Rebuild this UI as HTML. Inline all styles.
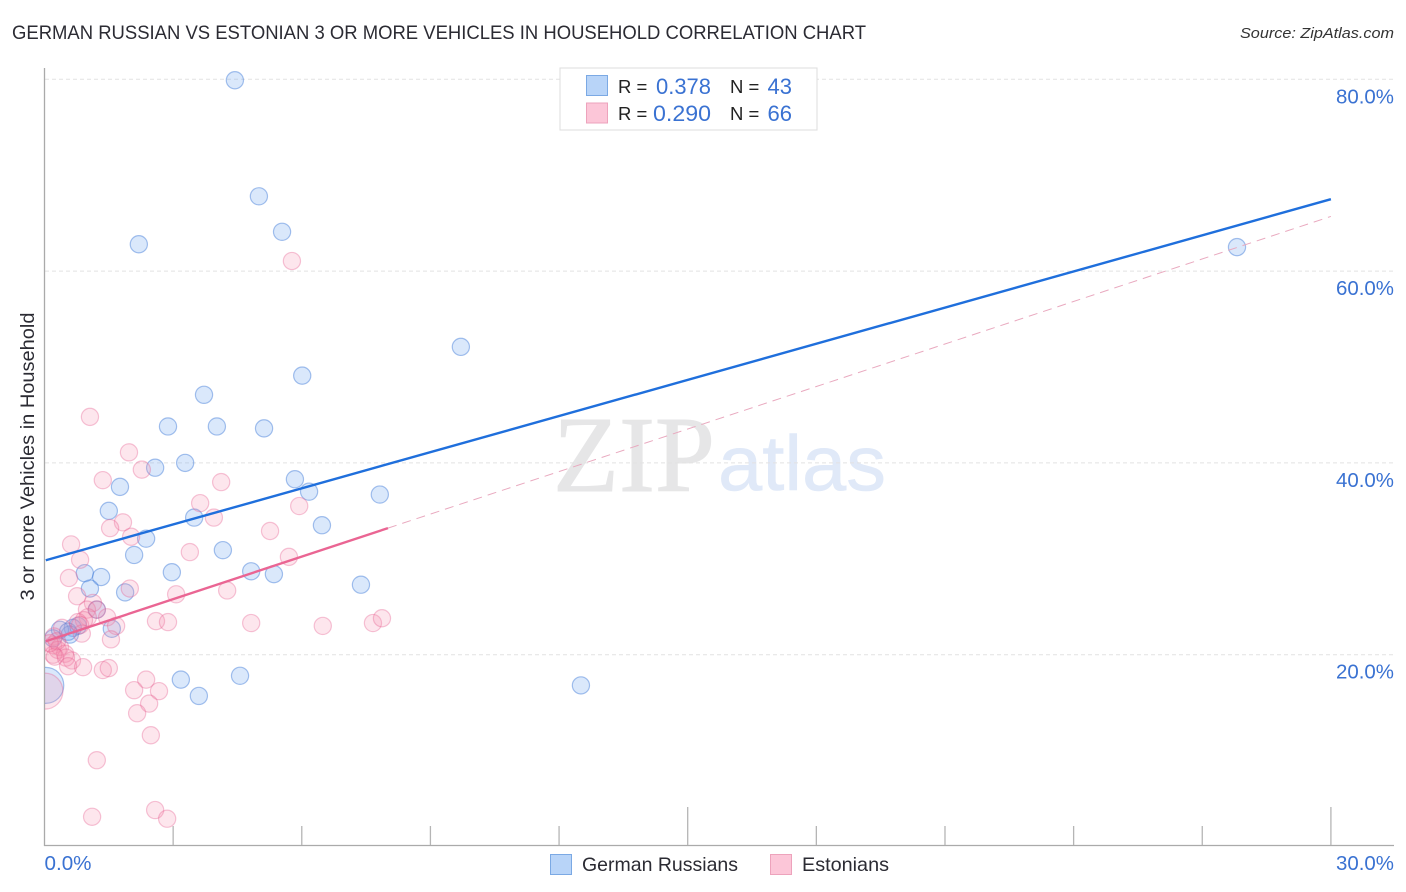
<!DOCTYPE html>
<html lang="en">
<head>
<meta charset="utf-8">
<title>German Russian vs Estonian 3 or more vehicles in household correlation chart</title>
<style>
html,body{margin:0;padding:0;background:#fff;width:1406px;height:892px;overflow:hidden}
svg{display:block;font-family:"Liberation Sans",sans-serif}
</style>
</head>
<body>
<svg id="chart" width="1406" height="892" viewBox="0 0 1406 892" xmlns="http://www.w3.org/2000/svg">
  <defs>
    <clipPath id="plot-clip"><rect x="45" y="60" width="1350" height="786"/></clipPath>
  </defs>
  <text x="12" y="39" font-size="19" fill="#2b2b33" textLength="854" lengthAdjust="spacingAndGlyphs">GERMAN RUSSIAN VS ESTONIAN 3 OR MORE VEHICLES IN HOUSEHOLD CORRELATION CHART</text>
  <text x="1394" y="38" font-size="15" font-style="italic" fill="#333" text-anchor="end" textLength="154" lengthAdjust="spacingAndGlyphs">Source: ZipAtlas.com</text>
  <g id="watermark">
    <text x="553" y="491" font-family="'Liberation Serif',serif" font-size="108" fill="#e6e6e7" stroke="#e6e6e7" stroke-width="1" textLength="162" lengthAdjust="spacingAndGlyphs">ZIP</text>
    <text x="718" y="490" font-size="78" fill="#e0e9f8" stroke="#e0e9f8" stroke-width="0.6" textLength="168" lengthAdjust="spacingAndGlyphs">atlas</text>
  </g>
  <g id="grid"></g>
  <g id="axes"></g>
  <g id="points" clip-path="url(#plot-clip)"></g>
  <g id="trends"></g>
  <g id="tick-labels"></g>
  <text transform="translate(34,456.5) rotate(-90)" font-size="19.5" fill="#2b2b33" text-anchor="middle" textLength="288" lengthAdjust="spacingAndGlyphs">3 or more Vehicles in Household</text>

  <g>
    <rect x="560" y="68" width="257" height="62" fill="#fff" stroke="#ddd" stroke-width="1"/>
    <rect x="586.5" y="75.5" width="21" height="20" fill="#b8d4f8" stroke="#7ba9e4"/>
    <rect x="586.5" y="103" width="21" height="20" fill="#fcc6d8" stroke="#eda3bc"/>
    <text x="618" y="93" font-size="18.5" fill="#222">R =</text>
    <text x="711" y="94" font-size="22" fill="#3a72d2" text-anchor="end" textLength="55" lengthAdjust="spacingAndGlyphs">0.378</text>
    <text x="730" y="93" font-size="18.5" fill="#222">N =</text>
    <text x="792" y="94" font-size="22" fill="#3a72d2" text-anchor="end">43</text>
    <text x="618" y="120" font-size="18.5" fill="#222">R =</text>
    <text x="711" y="121" font-size="22" fill="#3a72d2" text-anchor="end" textLength="58" lengthAdjust="spacingAndGlyphs">0.290</text>
    <text x="730" y="120" font-size="18.5" fill="#222">N =</text>
    <text x="792" y="121" font-size="22" fill="#3a72d2" text-anchor="end">66</text>
  </g>

  <g>
    <rect x="550.5" y="854.5" width="21" height="20" fill="#b8d4f8" stroke="#7ba9e4"/>
    <text x="582" y="871" font-size="19.5" fill="#2b2b33" textLength="156" lengthAdjust="spacingAndGlyphs">German Russians</text>
    <rect x="770.5" y="854.5" width="21" height="20" fill="#fcc6d8" stroke="#eda3bc"/>
    <text x="802" y="871" font-size="19.5" fill="#2b2b33" textLength="87" lengthAdjust="spacingAndGlyphs">Estonians</text>
  </g>
</svg>
<script>
const yGridValues = [20, 40, 60, 80];
const yTickLabels = ["20.0%", "40.0%", "60.0%", "80.0%"];
const xTickValues = [3, 6, 9, 12, 15, 18, 21, 24, 27, 30];
const xTickMajor = [15, 30];
const xEdgeLabels = ["0.0%", "30.0%"];

const germanX = [4.44,5.00,5.54,2.20,9.71,27.81,6.01,3.72,2.88,4.02,5.12,3.28,2.58,5.84,6.17,7.82,1.76,3.49,1.50,6.47,2.37,2.09,4.16,0.94,1.32,2.97,4.82,5.35,7.38,1.06,1.88,1.22,1.57,0.78,0.66,0.59,0.36,0.20,0.55,3.18,3.60,4.56,12.51];
const germanY = [79.9,67.8,64.1,62.8,52.1,62.5,49.1,47.1,43.8,43.8,43.6,40.0,39.5,38.3,37.0,36.7,37.5,34.3,35.0,33.5,32.1,30.4,30.9,28.5,28.1,28.6,28.7,28.4,27.3,26.9,26.5,24.7,22.7,23.0,22.8,22.1,22.6,21.7,22.4,17.4,15.7,17.8,16.8];
const germanLargeX = [0.03];
const germanLargeY = [16.8];

const estonianX = [5.77,1.06,1.97,1.36,2.27,4.12,3.63,5.94,3.95,1.83,1.53,2.02,5.26,0.62,3.39,5.70,0.83,0.57,1.99,3.07,4.26,0.76,1.13,0.99,1.22,1.46,1.01,0.92,2.60,2.88,4.82,6.49,7.66,7.87,0.78,1.67,1.55,0.87,0.41,0.83,0.22,0.20,0.36,0.31,0.48,0.64,0.20,0.50,0.24,0.55,0.90,1.36,1.50,2.37,2.09,2.67,2.44,2.16,2.48,1.22,1.11,2.58,2.86,0.29,0.12];
const estonianY = [61.05,44.8,41.1,38.2,39.3,38.0,35.8,35.5,34.3,33.8,33.2,32.3,32.9,31.5,30.7,30.2,29.9,28.0,26.9,26.3,26.7,26.1,25.4,24.7,24.7,23.9,23.9,23.6,23.5,23.4,23.3,23.0,23.3,23.8,23.4,23.0,21.6,22.2,22.8,23.1,21.9,21.0,20.8,20.5,20.1,19.4,20.0,19.7,19.8,18.8,18.7,18.4,18.6,17.4,16.3,16.2,14.9,13.9,11.6,9.0,3.1,3.8,2.9,21.4,21.2];
const estonianLargeX = [0.01];
const estonianLargeY = [16.2];

const germanTrendX = [0.03, 30];
const germanTrendY = [29.85, 67.5];
const estonianTrendX = [0.03, 8.01];
const estonianTrendY = [21.4, 33.2];
const estonianDashX = [8.01, 30];
const estonianDashY = [33.2, 65.7];

const NS = "http://www.w3.org/2000/svg";
const xScale = v => 44.5 + v * 42.88;
const yScale = v => 846.5 - v * 9.59;

function mk(parent, tag, attrs, text) {
  const el = document.createElementNS(NS, tag);
  for (const k in attrs) el.setAttribute(k, attrs[k]);
  if (text !== undefined) el.textContent = text;
  parent.appendChild(el);
  return el;
}

const grid = document.getElementById("grid");
const axes = document.getElementById("axes");
const pointsG = document.getElementById("points");
const trends = document.getElementById("trends");
const labels = document.getElementById("tick-labels");

yGridValues.forEach((v, i) => {
  const line = mk(grid, "line", {x1: 45, x2: 1394, y1: yScale(v), y2: yScale(v), stroke: "#e2e2e2", "stroke-width": 1, "stroke-dasharray": "4 3"});
  
  
  const t = mk(labels, "text", {x: 1394, y: yScale(v) + 24, "font-size": 20, fill: "#3a72d2", "text-anchor": "end", textLength: 58, lengthAdjust: "spacingAndGlyphs"}, yTickLabels[i]);
  
  
});

const yAxis = mk(axes, "line", {x1: 44.5, x2: 44.5, y1: 68, y2: 846, stroke: "#aaa", "stroke-width": 1.3});


const xAxis = mk(axes, "line", {x1: 44, x2: 1394, y1: 845.5, y2: 845.5, stroke: "#aaa", "stroke-width": 1.3});



xTickValues.forEach(v => {
  const top = xTickMajor.includes(v) ? 807 : 826;
  const tick = mk(axes, "line", {x1: xScale(v), x2: xScale(v), y1: top, y2: 845, stroke: "#b5b5b5", "stroke-width": 1.3});
  
  
});

const xLabelLeft = mk(labels, "text", {x: 44.5, y: 870, "font-size": 20, fill: "#3a72d2", textLength: 47, lengthAdjust: "spacingAndGlyphs"}, xEdgeLabels[0]);


const xLabelRight = mk(labels, "text", {x: 1394, y: 870, "font-size": 20, fill: "#3a72d2", "text-anchor": "end", textLength: 58, lengthAdjust: "spacingAndGlyphs"}, xEdgeLabels[1]);



const blueStyle = {fill: "rgba(120,170,240,0.27)", stroke: "rgba(60,120,215,0.45)", "stroke-width": 1.2};
const pinkStyle = {fill: "rgba(245,140,175,0.22)", stroke: "rgba(230,95,145,0.36)", "stroke-width": 1.2};

function drawSeries(xs, ys, r, style, name) {
  xs.forEach((x, i) => {
    const c = mk(pointsG, "circle", Object.assign({cx: xScale(x), cy: yScale(ys[i]), r: r}, style));
    
    
  });
}
drawSeries(germanX, germanY, 8.6, blueStyle, 'german-russians-point');
drawSeries(estonianX, estonianY, 8.6, pinkStyle, 'estonians-point');
drawSeries(germanLargeX, germanLargeY, 18, blueStyle, 'german-russians-large-point');
drawSeries(estonianLargeX, estonianLargeY, 18, pinkStyle, 'estonians-large-point');

const gLine = mk(trends, "line", {x1: xScale(germanTrendX[0]), y1: yScale(germanTrendY[0]), x2: xScale(germanTrendX[1]), y2: yScale(germanTrendY[1]), stroke: "#1f6fdc", "stroke-width": 2.4});


const eLine = mk(trends, "line", {x1: xScale(estonianTrendX[0]), y1: yScale(estonianTrendY[0]), x2: xScale(estonianTrendX[1]), y2: yScale(estonianTrendY[1]), stroke: "#ea6593", "stroke-width": 2.4});


const eDash = mk(trends, "line", {x1: xScale(estonianDashX[0]), y1: yScale(estonianDashY[0]), x2: xScale(estonianDashX[1]), y2: yScale(estonianDashY[1]), stroke: "#e9a9bf", "stroke-width": 1, "stroke-dasharray": "9 6"});


</script>
</body>
</html>
